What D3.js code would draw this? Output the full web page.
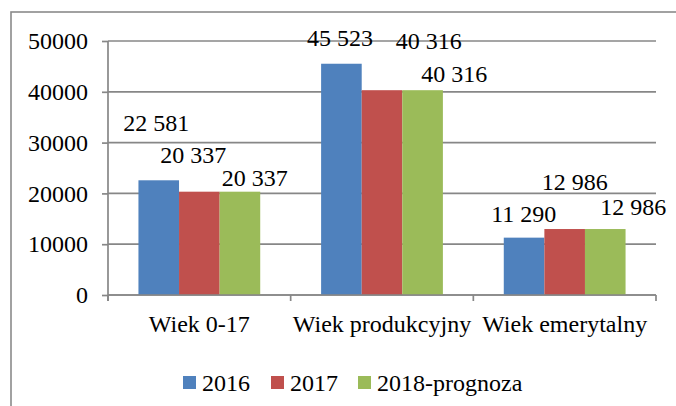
<!DOCTYPE html>
<html>
<head>
<meta charset="utf-8">
<script src="https://cdn.jsdelivr.net/npm/d3@7"></script>
<style>
  html, body { margin: 0; padding: 0; background: #fff; }
  svg { display: block; }
</style>
</head>
<body>
<svg id="chart" width="676" height="406"></svg>
<script>
// ---- data ----
const categories = ["Wiek 0-17", "Wiek produkcyjny", "Wiek emerytalny"];
const seriesNames = ["2016", "2017", "2018-prognoza"];
const values2016 = [22581, 45523, 11290];
const values2017 = [20337, 40316, 12986];
const values2018 = [20337, 40316, 12986];
const yTicks = [0, 10000, 20000, 30000, 40000, 50000];
const colors = ["#4F81BD", "#C0504D", "#9BBB59"];
// manual label nudges (px) relative to bar top-centre: [series][category]
const labelNudge = [
  [[-2.5, -49], [-1.4, -17.7], [-0.3, -15.6]],
  [[-6.2, -28.7], [46.7, -41.2], [10, -39]],
  [[14.8, -5.7], [31.6, -8.5], [27.9, -14]]
];

const seriesValues = [values2016, values2017, values2018];
const fmt = v => d3.format(",")(v).replace(/,/g, " ");

const FONT = "'Times New Roman', 'Liberation Serif', Times, 'DejaVu Serif', serif";
const svg = d3.select("#chart");
const fontSize = 24;

// frame
svg.append("rect")
  .attr("x", 11).attr("y", 12).attr("width", 700).attr("height", 450)
  .attr("fill", "none").attr("stroke", "#8a8a8a").attr("stroke-width", 1.6);

const pLeft = 108, pRight = 656, pTop = 41, pBottom = 295;

const x0 = d3.scaleBand().domain(categories).range([pLeft, pRight]).paddingInner(0).paddingOuter(0);
const x1 = d3.scaleBand().domain(seriesNames).range([0, x0.bandwidth()]).paddingInner(0).paddingOuter(0.75);
const y = d3.scaleLinear().domain([0, 50000]).range([pBottom, pTop]);

const gridColor = "#878787";

// gridlines
svg.append("g").selectAll("line").data(yTicks).join("line")
  .attr("x1", pLeft).attr("x2", pRight)
  .attr("y1", d => y(d)).attr("y2", d => y(d))
  .attr("stroke", gridColor).attr("stroke-width", 1.7);

// y axis
const yAxis = svg.append("g").attr("transform", `translate(${pLeft},0)`)
  .call(d3.axisLeft(y).tickValues(yTicks).tickFormat(d3.format("d")).tickSize(6).tickPadding(14));
yAxis.attr("font-family", FONT).attr("font-size", fontSize);
yAxis.select(".domain").remove();
yAxis.selectAll(".tick line").attr("stroke", gridColor).attr("stroke-width", 1.7);
yAxis.selectAll(".tick text").style("font-family", FONT).style("font-size", fontSize + "px").attr("fill", "#000");
svg.append("line").attr("x1", pLeft).attr("x2", pLeft).attr("y1", pTop).attr("y2", pBottom + 6)
  .attr("stroke", gridColor).attr("stroke-width", 1.7);

// category ticks
const catBounds = categories.map(c => x0(c)).concat([pRight]);
svg.append("g").selectAll("line").data(catBounds).join("line")
  .attr("x1", d => d).attr("x2", d => d).attr("y1", pBottom).attr("y2", pBottom + 6)
  .attr("stroke", gridColor).attr("stroke-width", 1.7);

// bars
const groups = svg.append("g").selectAll("g").data(categories).join("g")
  .attr("transform", c => `translate(${x0(c)},0)`);
seriesNames.forEach((s, si) => {
  groups.append("rect")
    .attr("x", x1(s))
    .attr("width", x1.bandwidth())
    .attr("y", (c, ci) => y(seriesValues[si][ci]))
    .attr("height", (c, ci) => y(0) - y(seriesValues[si][ci]))
    .attr("fill", colors[si]);
});

// zero axis line on top
svg.append("line").attr("x1", pLeft).attr("x2", pRight).attr("y1", y(0)).attr("y2", y(0))
  .attr("stroke", gridColor).attr("stroke-width", 1.7);

function txt(sel) {
  return sel.style("font-family", FONT).style("font-size", fontSize + "px").attr("fill", "#000");
}

// data labels
seriesNames.forEach((s, si) => {
  categories.forEach((c, ci) => {
    const v = seriesValues[si][ci];
    const cx = x0(c) + x1(s) + x1.bandwidth() / 2;
    txt(svg.append("text"))
      .attr("x", cx + labelNudge[si][ci][0])
      .attr("y", y(v) + labelNudge[si][ci][1])
      .attr("text-anchor", "middle")
      .text(fmt(v));
  });
});

// category labels
txt(svg.append("g").selectAll("text").data(categories).join("text"))
  .attr("x", c => x0(c) + x0.bandwidth() / 2)
  .attr("y", 332)
  .attr("text-anchor", "middle")
  .text(c => c);

// legend
const legendX = [183, 271, 358];
const legend = svg.append("g");
seriesNames.forEach((s, si) => {
  legend.append("rect").attr("x", legendX[si]).attr("y", 376).attr("width", 13).attr("height", 13)
    .attr("fill", colors[si]);
  txt(legend.append("text")).attr("x", legendX[si] + 19).attr("y", 391).text(s);
});
</script>
</body>
</html>
